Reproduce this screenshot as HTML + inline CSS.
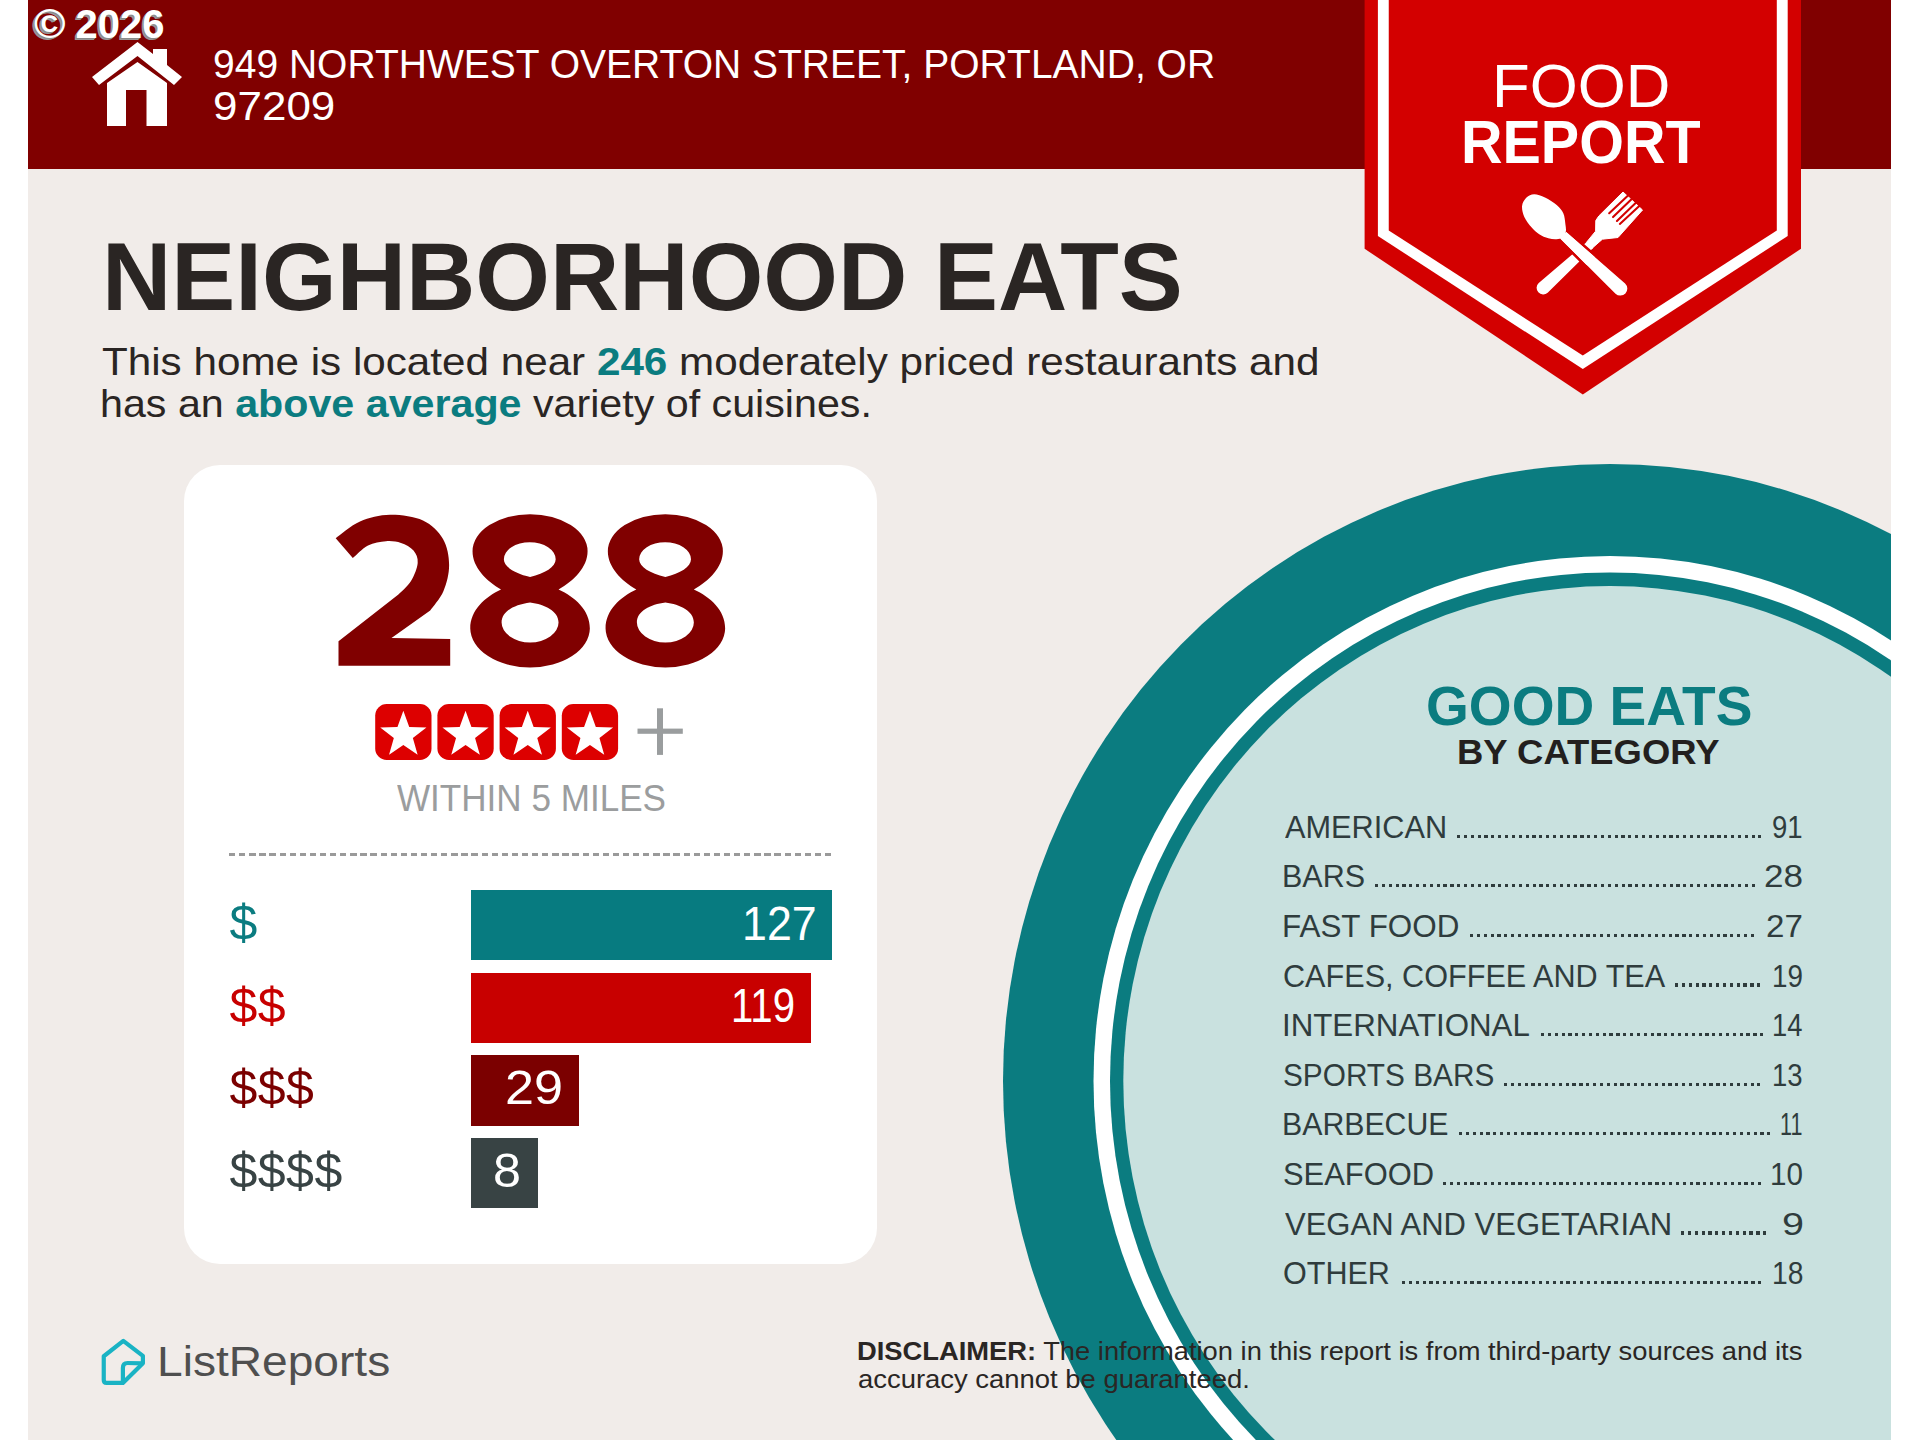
<!DOCTYPE html>
<html><head><meta charset="utf-8">
<style>
html,body{margin:0;padding:0;width:1920px;height:1440px;overflow:hidden;background:#fff;}
body{position:relative;font-family:"Liberation Sans",sans-serif;}
#page{position:absolute;left:28px;top:0;width:1863px;height:1440px;background:#f1ece9;overflow:hidden;}
#stage{position:absolute;left:-28px;top:0;width:1920px;height:1440px;}
.t{position:absolute;white-space:nowrap;line-height:1;transform-origin:0 0;}
#hdr{position:absolute;left:28px;top:0;width:1863px;height:169px;background:#800000;}
svg{position:absolute;left:0;top:0;}
.bar{position:absolute;left:470.6px;height:70.6px;}
</style></head>
<body>
<div id="page"><div id="stage">
  <div id="hdr"></div>
  <!-- circles -->
  <svg width="1920" height="1440">
    <ellipse cx="1610" cy="1081" rx="607" ry="617" fill="#0b7c80"/>
    <ellipse cx="1610" cy="1081" rx="516.5" ry="525" fill="#ffffff"/>
    <ellipse cx="1610" cy="1081" rx="500" ry="508.5" fill="#0b7c80"/>
    <ellipse cx="1610" cy="1081" rx="486.7" ry="495" fill="#c9e1df"/>
  </svg>
  <!-- badge -->
  <svg width="1920" height="1440">
    <polygon points="1364.6,0 1801,0 1801,248.75 1582.8,394.4 1364.6,248.75" fill="#d30000"/>
    <polygon points="1377.9,0 1787.7,0 1787.7,236 1582.8,369 1377.9,236" fill="#ffffff"/>
    <polygon points="1388.75,0 1776.8,0 1776.8,230.4 1582.8,355.6 1388.75,230.4" fill="#d30000"/>
<path d="M1623.00,192.00 L1642.50,210.00 L1618.00,237.50 L1602.40,239.20 L1591.90,248.40 L1586.60,242.20 L1595.60,231.20 L1595.80,220.50 L1598.80,216.00 Z" fill="#fff" stroke="#fff" stroke-width="1" stroke-linejoin="round"/>
<path d="M1587.60,241.33 L1538.74,282.93 A6.6,6.6 0 0 0 1547.66,292.67 L1593.40,247.67 Z" fill="#fff"/>
<line x1="1609.2" y1="213.2" x2="1628.6" y2="194.9" stroke="#d30000" stroke-width="2.1" stroke-linecap="round"/>
<line x1="1613.06" y1="217.1" x2="1632.5" y2="198.3" stroke="#d30000" stroke-width="2.1" stroke-linecap="round"/>
<line x1="1616.95" y1="221" x2="1636.4" y2="202.2" stroke="#d30000" stroke-width="2.1" stroke-linecap="round"/>
<line x1="1619.86" y1="223.9" x2="1639.8" y2="205.6" stroke="#d30000" stroke-width="2.1" stroke-linecap="round"/>
<path d="M1560.20,238.52 L1615.52,293.72 A7.0,7.0 0 0 0 1625.08,283.48 L1566.20,232.08 Z" fill="#fff" stroke="#d30000" stroke-width="5.5" paint-order="stroke"/>
<path d="M1522.10,205.80 C1522.48,202.60 1524.48,199.43 1526.50,197.50 C1528.52,195.57 1531.12,194.20 1534.20,194.20 C1537.28,194.20 1541.25,195.70 1545.00,197.50 C1548.75,199.30 1553.65,202.37 1556.70,205.00 C1559.75,207.63 1561.85,210.10 1563.30,213.30 C1564.75,216.50 1564.98,221.13 1565.40,224.20 C1565.82,227.27 1566.28,229.53 1565.80,231.70 C1565.32,233.87 1564.05,235.93 1562.50,237.20 C1560.95,238.47 1558.87,239.12 1556.50,239.30 C1554.13,239.48 1551.18,239.15 1548.30,238.30 C1545.42,237.45 1541.97,236.00 1539.20,234.20 C1536.43,232.40 1534.20,230.42 1531.70,227.50 C1529.20,224.58 1525.80,220.32 1524.20,216.70 C1522.60,213.08 1521.72,209.00 1522.10,205.80 Z" fill="#fff"/>
<path d="M1560.20,238.52 L1586.18,264.39 A5.6,5.6 0 0 0 1593.82,256.21 L1566.20,232.08 Z" fill="#fff"/>
  </svg>
  <!-- house icon -->
  <svg width="1920" height="200">
    <path d="M92,77 L137.5,42 L153,54 L153,49 L167,49 L167,65 L182,77 L174,85 L137.5,56 L99,85 Z" fill="#fff"/>
    <path d="M107,83 L137.5,62 L167,83 L167,126 L146.5,126 L146.5,90 L126,90 L126,126 L107,126 Z" fill="#fff"/>
  </svg>
<div class="t" style="left:34.2px;top:4px;font-size:40px;font-weight:700;color:#fff;transform:scaleX(1.07);text-shadow:-1px 1px 0 #8a8a8a,-2px 1.5px 0 #999;">©</div>
<div class="t" style="left:75.4px;top:3.5px;font-size:40px;font-weight:700;color:#fff;text-shadow:-1px 1px 0 #8a8a8a,-2px 1.5px 0 #999;">2026</div>
<div class="t" style="left:213.10px;top:44.29px;font-size:41px;font-weight:400;color:#fff;transform:scaleX(0.9514);">949 NORTHWEST OVERTON STREET, PORTLAND, OR</div>
<div class="t" style="left:212.85px;top:85.54px;font-size:41px;font-weight:400;color:#fff;transform:scaleX(1.0727);">97209</div>
<div class="t" style="left:1492.44px;top:56.16px;font-size:61px;font-weight:400;color:#fff;transform:scaleX(1.0119);">FOOD</div>
<div class="t" style="left:1461.23px;top:112.36px;font-size:61px;font-weight:700;color:#fff;transform:scaleX(0.9424);">REPORT</div>

  <!-- card -->
  <div style="position:absolute;left:184px;top:465px;width:693px;height:799px;background:#fff;border-radius:36px;"></div>
  <svg width="1920" height="1440">
<rect x="375.20" y="704.1" width="56.3" height="55.8" rx="11.5" fill="#dd0000"/>
<polygon points="403.35,710.70 409.23,726.91 426.46,727.49 412.86,738.09 417.63,754.66 403.35,745.00 389.07,754.66 393.84,738.09 380.24,727.49 397.47,726.91" fill="#fff"/>
<rect x="437.40" y="704.1" width="56.3" height="55.8" rx="11.5" fill="#dd0000"/>
<polygon points="465.55,710.70 471.43,726.91 488.66,727.49 475.06,738.09 479.83,754.66 465.55,745.00 451.27,754.66 456.04,738.09 442.44,727.49 459.67,726.91" fill="#fff"/>
<rect x="499.60" y="704.1" width="56.3" height="55.8" rx="11.5" fill="#dd0000"/>
<polygon points="527.75,710.70 533.63,726.91 550.86,727.49 537.26,738.09 542.03,754.66 527.75,745.00 513.47,754.66 518.24,738.09 504.64,727.49 521.87,726.91" fill="#fff"/>
<rect x="561.80" y="704.1" width="56.3" height="55.8" rx="11.5" fill="#dd0000"/>
<polygon points="589.95,710.70 595.83,726.91 613.06,727.49 599.46,738.09 604.23,754.66 589.95,745.00 575.67,754.66 580.44,738.09 566.84,727.49 584.07,726.91" fill="#fff"/>
<rect x="637.5" y="728.6" width="45.3" height="5.2" fill="#9a9d9e"/>
<rect x="657" y="708.3" width="6" height="46.6" fill="#9a9d9e"/>
  </svg>
  <div style="position:absolute;left:229px;top:852.7px;width:603px;height:3.1px;background:repeating-linear-gradient(to right,#9a9a9a 0 6.3px,transparent 6.3px 10.1px);"></div>

<!--USD-->

  <div class="bar" style="top:889.9px;width:361.3px;background:#077b80;"></div>
  <div class="bar" style="top:972.6px;width:340.8px;background:#c80000;"></div>
  <div class="bar" style="top:1055.2px;width:108.2px;background:#7b0000;"></div>
  <div class="bar" style="top:1137.5px;width:67.3px;background:#384344;"></div>

<div class="t" style="left:1284.90px;top:810.71px;font-size:32px;font-weight:400;color:#2f3c3d;transform:scaleX(0.9596);">AMERICAN</div>
<div class="t" style="left:1772.28px;top:810.71px;font-size:32px;font-weight:400;color:#2f3c3d;transform:scaleX(0.8594);">91</div>
<div style="position:absolute;left:1456.80px;top:834.50px;width:304.60px;height:3.2px;background:repeating-linear-gradient(to right,#2f3c3d 0 3.2px,transparent 3.2px 6.85px);"></div>
<div class="t" style="left:1282.04px;top:860.32px;font-size:32px;font-weight:400;color:#2f3c3d;transform:scaleX(0.9530);">BARS</div>
<div class="t" style="left:1764.21px;top:860.32px;font-size:32px;font-weight:400;color:#2f3c3d;transform:scaleX(1.0969);">28</div>
<div style="position:absolute;left:1375.40px;top:884.11px;width:379.95px;height:3.2px;background:repeating-linear-gradient(to right,#2f3c3d 0 3.2px,transparent 3.2px 6.85px);"></div>
<div class="t" style="left:1281.96px;top:909.93px;font-size:32px;font-weight:400;color:#2f3c3d;transform:scaleX(0.9812);">FAST FOOD</div>
<div class="t" style="left:1766.33px;top:909.93px;font-size:32px;font-weight:400;color:#2f3c3d;transform:scaleX(1.0344);">27</div>
<div style="position:absolute;left:1469.70px;top:933.72px;width:284.05px;height:3.2px;background:repeating-linear-gradient(to right,#2f3c3d 0 3.2px,transparent 3.2px 6.85px);"></div>
<div class="t" style="left:1282.99px;top:959.54px;font-size:32px;font-weight:400;color:#2f3c3d;transform:scaleX(0.9567);">CAFES, COFFEE AND TEA</div>
<div class="t" style="left:1771.96px;top:959.54px;font-size:32px;font-weight:400;color:#2f3c3d;transform:scaleX(0.8687);">19</div>
<div style="position:absolute;left:1674.50px;top:983.33px;width:85.40px;height:3.2px;background:repeating-linear-gradient(to right,#2f3c3d 0 3.2px,transparent 3.2px 6.85px);"></div>
<div class="t" style="left:1281.97px;top:1009.15px;font-size:32px;font-weight:400;color:#2f3c3d;transform:scaleX(0.9772);">INTERNATIONAL</div>
<div class="t" style="left:1771.59px;top:1009.15px;font-size:32px;font-weight:400;color:#2f3c3d;transform:scaleX(0.8545);">14</div>
<div style="position:absolute;left:1540.70px;top:1032.94px;width:222.40px;height:3.2px;background:repeating-linear-gradient(to right,#2f3c3d 0 3.2px,transparent 3.2px 6.85px);"></div>
<div class="t" style="left:1283.04px;top:1058.76px;font-size:32px;font-weight:400;color:#2f3c3d;transform:scaleX(0.9308);">SPORTS BARS</div>
<div class="t" style="left:1772.28px;top:1058.76px;font-size:32px;font-weight:400;color:#2f3c3d;transform:scaleX(0.8594);">13</div>
<div style="position:absolute;left:1503.50px;top:1082.55px;width:256.65px;height:3.2px;background:repeating-linear-gradient(to right,#2f3c3d 0 3.2px,transparent 3.2px 6.85px);"></div>
<div class="t" style="left:1282.06px;top:1108.37px;font-size:32px;font-weight:400;color:#2f3c3d;transform:scaleX(0.9459);">BARBECUE</div>
<div class="t" style="left:1779.95px;top:1108.37px;font-size:32px;font-weight:400;color:#2f3c3d;transform:scaleX(0.6733);">11</div>
<div style="position:absolute;left:1459.00px;top:1132.16px;width:311.45px;height:3.2px;background:repeating-linear-gradient(to right,#2f3c3d 0 3.2px,transparent 3.2px 6.85px);"></div>
<div class="t" style="left:1282.97px;top:1157.98px;font-size:32px;font-weight:400;color:#2f3c3d;transform:scaleX(0.9660);">SEAFOOD</div>
<div class="t" style="left:1770.05px;top:1157.98px;font-size:32px;font-weight:400;color:#2f3c3d;transform:scaleX(0.9250);">10</div>
<div style="position:absolute;left:1443.30px;top:1181.77px;width:318.30px;height:3.2px;background:repeating-linear-gradient(to right,#2f3c3d 0 3.2px,transparent 3.2px 6.85px);"></div>
<div class="t" style="left:1284.90px;top:1207.59px;font-size:32px;font-weight:400;color:#2f3c3d;transform:scaleX(0.9690);">VEGAN AND VEGETARIAN</div>
<div class="t" style="left:1781.73px;top:1207.59px;font-size:32px;font-weight:400;color:#2f3c3d;transform:scaleX(1.2357);">9</div>
<div style="position:absolute;left:1681.00px;top:1231.38px;width:85.40px;height:3.2px;background:repeating-linear-gradient(to right,#2f3c3d 0 3.2px,transparent 3.2px 6.85px);"></div>
<div class="t" style="left:1282.99px;top:1257.20px;font-size:32px;font-weight:400;color:#2f3c3d;transform:scaleX(0.9546);">OTHER</div>
<div class="t" style="left:1771.54px;top:1257.20px;font-size:32px;font-weight:400;color:#2f3c3d;transform:scaleX(0.8813);">18</div>
<div style="position:absolute;left:1402.30px;top:1280.99px;width:359.40px;height:3.2px;background:repeating-linear-gradient(to right,#2f3c3d 0 3.2px,transparent 3.2px 6.85px);"></div>

  <!-- footer logo -->
  <svg width="1920" height="1440">
    <path d="M123.3,1340.8 L103.75,1356.25 L103.75,1380 Q103.75,1382.9 106.5,1382.9 L122.9,1382.9 L142.9,1363.3 L142.9,1355.8 Z" fill="none" stroke="#1ab3c4" stroke-width="4.2" stroke-linejoin="round"/>
    <path d="M122.9,1382.9 L122.9,1368 Q122.9,1363 127.5,1363 L142.9,1363.3" fill="none" stroke="#1ab3c4" stroke-width="4.2" stroke-linejoin="round"/>
  </svg>
<div class="t" style="left:101.56px;top:228.39px;font-size:97px;font-weight:700;color:#2a2523;transform:scaleX(0.9896);">NEIGHBORHOOD EATS</div>
<div class="t" style="left:101.93px;top:342.36px;font-size:39.5px;font-weight:400;color:#2a2523;transform:scaleX(1.0683);">This home is located near <b style="color:#0b7c80">246</b> moderately priced restaurants and</div>
<div class="t" style="left:99.87px;top:383.86px;font-size:39.5px;font-weight:400;color:#2a2523;transform:scaleX(1.0432);">has an <b style="color:#0b7c80">above average</b> variety of cuisines.</div>
<svg width="1920" height="1440"><path d="M335.7,538.2 C339.75,535.42 350.95,525.40 360.00,521.50 C369.05,517.60 379.50,514.97 390.00,514.80 C400.50,514.63 414.17,516.47 423.00,520.50 C431.83,524.53 438.65,531.58 443.00,539.00 C447.35,546.42 449.02,556.33 449.10,565.00 C449.18,573.67 446.65,583.42 443.50,591.00 C440.35,598.58 432.42,607.25 430.20,610.50 L391.5,637.9 L450.2,639 L450.2,665.8 L338.5,665.8 L338.5,641.3 L398.4,594.6 C400.50,592.33 407.78,586.27 411.00,581.00 C414.22,575.73 417.28,568.08 417.70,563.00 C418.12,557.92 416.28,553.83 413.50,550.50 C410.72,547.17 405.58,544.55 401.00,543.00 C396.42,541.45 391.50,540.78 386.00,541.20 C380.50,541.62 373.53,542.68 368.00,545.50 C362.47,548.32 355.33,556.00 352.80,558.10 Z" fill="#800000"/>
<path transform="translate(0,0)" d="M501.02,589.43 C486,581 472.54,567 472.54,551.28 A57.52,37.02 0 0 1 587.58,551.28 C587.58,567 574,581 558.54,589.43 C575,597 589.85,610 589.85,628.4 A59.8,39.62 0 0 1 470.26,628.4 C470.26,610 485,597 501.02,589.43 Z M503.86,559.25 A25.91,17.08 0 0 1 555.68,559.25 C555.68,567 545,573.5 530.06,576.9 C515,573.5 503.86,567 503.86,559.25 Z M530.06,602.5 C545,604.5 558.54,611 558.54,622.5 A28.47,19.9 0 0 1 501.6,622.5 C501.6,611 515,604.5 530.06,602.5 Z" fill="#800000" fill-rule="evenodd"/>
<path transform="translate(135.3,0)" d="M501.02,589.43 C486,581 472.54,567 472.54,551.28 A57.52,37.02 0 0 1 587.58,551.28 C587.58,567 574,581 558.54,589.43 C575,597 589.85,610 589.85,628.4 A59.8,39.62 0 0 1 470.26,628.4 C470.26,610 485,597 501.02,589.43 Z M503.86,559.25 A25.91,17.08 0 0 1 555.68,559.25 C555.68,567 545,573.5 530.06,576.9 C515,573.5 503.86,567 503.86,559.25 Z M530.06,602.5 C545,604.5 558.54,611 558.54,622.5 A28.47,19.9 0 0 1 501.6,622.5 C501.6,611 515,604.5 530.06,602.5 Z" fill="#800000" fill-rule="evenodd"/></svg>
<div class="t" style="left:397.00px;top:780.53px;font-size:36px;font-weight:400;color:#9b9d9e;transform:scaleX(0.9745);">WITHIN 5 MILES</div>
<div class="t" style="left:1425.73px;top:678.00px;font-size:56px;font-weight:700;color:#0b7c80;transform:scaleX(0.9835);">GOOD EATS</div>
<div class="t" style="left:1457.36px;top:735.10px;font-size:35.8px;font-weight:700;color:#231f1e;transform:scaleX(1.0180);">BY CATEGORY</div>
<div class="t" style="left:857.44px;top:1338.17px;font-size:26.5px;font-weight:400;color:#2a2624;transform:scaleX(1.0309);"><b>DISCLAIMER:</b> The information in this report is from third-party sources and its</div>
<div class="t" style="left:858.47px;top:1365.87px;font-size:26.5px;font-weight:400;color:#2a2624;transform:scaleX(1.0347);">accuracy cannot be guaranteed.</div>
<div class="t" style="left:157.39px;top:1340.02px;font-size:42.8px;font-weight:400;color:#4f4f4f;transform:scaleX(1.0773);">ListReports</div>
<div class="t" style="left:742.05px;top:898.72px;font-size:49px;font-weight:400;color:#fff;transform:scaleX(0.9133);">127</div>
<div class="t" style="left:730.62px;top:981.42px;font-size:49px;font-weight:400;color:#fff;transform:scaleX(0.8194);">119</div>
<div class="t" style="left:505.07px;top:1062.82px;font-size:49px;font-weight:400;color:#fff;transform:scaleX(1.0640);">29</div>
<div class="t" style="left:493.35px;top:1145.52px;font-size:49px;font-weight:400;color:#fff;transform:scaleX(1.0261);">8</div>
<div class="t" style="left:229.5px;top:898.0px;font-size:50px;color:#0b7c80;letter-spacing:0.5px;">$</div>
<div class="t" style="left:229.5px;top:980.5px;font-size:50px;color:#c80000;letter-spacing:0.5px;">$$</div>
<div class="t" style="left:229.5px;top:1063.0px;font-size:50px;color:#7b0000;letter-spacing:0.5px;">$$$</div>
<div class="t" style="left:229.5px;top:1145.5px;font-size:50px;color:#384344;letter-spacing:0.5px;">$$$$</div>
</div></div>
</body></html>
